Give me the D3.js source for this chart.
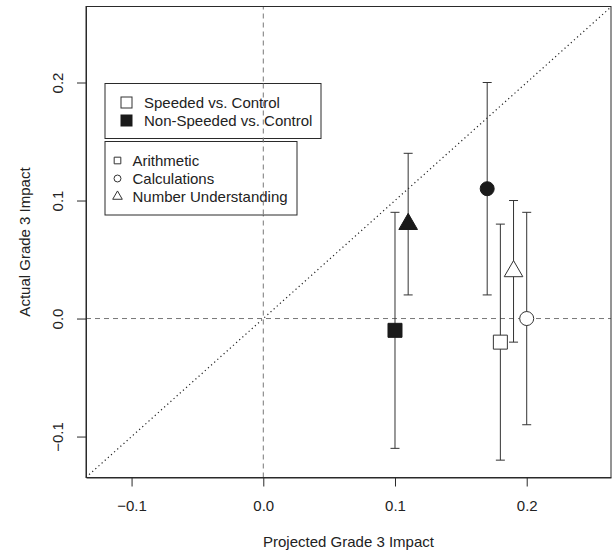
<!DOCTYPE html>
<html>
<head>
<meta charset="utf-8">
<script src="https://cdn.jsdelivr.net/npm/d3@7"></script>
<style>
  body { margin: 0; background: #fff; }
  text { font-family: "Liberation Sans", Arial, sans-serif; fill: #222; }
</style>
</head>
<body>
<script>
// comparisons and outcomes
var groups = ["Speeded vs. Control", "Non-Speeded vs. Control"];
var outcomes = ["Arithmetic", "Calculations", "Number Understanding"];

// projected (x) and actual (y) impacts with CI bounds, one per outcome
var speededProj = [0.18, 0.20, 0.19];
var speededAct = [-0.02, 0.00, 0.04];
var speededLo = [-0.12, -0.09, -0.02];
var speededHi = [0.08, 0.09, 0.10];

var nonSpeededProj = [0.10, 0.17, 0.11];
var nonSpeededAct = [-0.01, 0.11, 0.08];
var nonSpeededLo = [-0.11, 0.02, 0.02];
var nonSpeededHi = [0.09, 0.20, 0.14];

var xTicks = [-0.1, 0.0, 0.1, 0.2];
var yTicks = [-0.1, 0.0, 0.1, 0.2];

var width = 613, height = 553;
var margin = {top: 6.5, right: 2, bottom: 75.5, left: 86};

var x = d3.scaleLinear()
  .domain([-0.1346, 0.264])
  .range([margin.left, width - margin.right]);
var y = d3.scaleLinear()
  .domain([-0.1347, 0.2644])
  .range([height - margin.bottom, margin.top]);

var svg = d3.select("body").append("svg")
  .attr("width", width)
  .attr("height", height);

var ink = "#2a2a2a";

// reference lines
svg.append("line")
  .attr("x1", x(0)).attr("x2", x(0))
  .attr("y1", y.range()[0]).attr("y2", y.range()[1])
  .attr("stroke", "#777").attr("stroke-dasharray", "5,4");
svg.append("line")
  .attr("x1", x.range()[0]).attr("x2", x.range()[1])
  .attr("y1", y(0)).attr("y2", y(0))
  .attr("stroke", "#777").attr("stroke-dasharray", "5,4");
// y = x
var lo = Math.max(x.domain()[0], y.domain()[0]);
var hi = Math.min(x.domain()[1], y.domain()[1]);
svg.append("line")
  .attr("x1", x(lo)).attr("y1", y(lo))
  .attr("x2", x(hi)).attr("y2", y(hi))
  .attr("stroke", "#222").attr("stroke-width", 1.2).attr("stroke-dasharray", "1.2,3");

// box
svg.append("rect")
  .attr("x", x.range()[0]).attr("y", y.range()[1])
  .attr("width", x.range()[1] - x.range()[0])
  .attr("height", y.range()[0] - y.range()[1])
  .attr("fill", "none").attr("stroke", ink);

// axes
var xAxis = svg.append("g")
  .attr("transform", "translate(0," + y.range()[0] + ")")
  .call(d3.axisBottom(x).tickValues(xTicks).tickFormat(d3.format(".1f")).tickSize(9).tickSizeOuter(0).tickPadding(13));
var yAxis = svg.append("g")
  .attr("transform", "translate(" + x.range()[0] + ",0)")
  .call(d3.axisLeft(y).tickValues(yTicks).tickFormat(d3.format(".1f")).tickSize(9).tickSizeOuter(0).tickPadding(0));
[xAxis, yAxis].forEach(function(a) {
  a.select(".domain").attr("stroke", ink);
  a.selectAll(".tick line").attr("stroke", ink);
  a.selectAll(".tick text")
    .style("font-family", '"Liberation Sans", Arial, sans-serif')
    .style("font-size", "15px").attr("fill", "#222");
});
xAxis.selectAll(".tick text").attr("y", null).attr("dy", null)
  .attr("y", 511 - y.range()[0]);
yAxis.selectAll(".tick text")
  .attr("x", null).attr("dy", null)
  .attr("text-anchor", "middle")
  .attr("transform", "translate(" + (63 - x.range()[0]) + ",0) rotate(-90)");

// axis titles
svg.append("text")
  .attr("x", (x.range()[0] + x.range()[1]) / 2).attr("y", 547)
  .attr("text-anchor", "middle").style("font-size", "15px")
  .text("Projected Grade 3 Impact");
svg.append("text")
  .attr("transform", "translate(30," + ((y.range()[0] + y.range()[1]) / 2) + ") rotate(-90)")
  .attr("text-anchor", "middle").style("font-size", "15px")
  .text("Actual Grade 3 Impact");

// build points
var points = [];
outcomes.forEach(function(o, i) {
  points.push({shape: i, filled: false, px: speededProj[i], ay: speededAct[i], lo: speededLo[i], hi: speededHi[i]});
  points.push({shape: i, filled: true, px: nonSpeededProj[i], ay: nonSpeededAct[i], lo: nonSpeededLo[i], hi: nonSpeededHi[i]});
});

// error bars
var bars = svg.append("g").attr("stroke", "#333");
points.forEach(function(d) {
  var cx = x(d.px);
  bars.append("line").attr("x1", cx).attr("x2", cx).attr("y1", y(d.lo)).attr("y2", y(d.hi));
  bars.append("line").attr("x1", cx - 4.5).attr("x2", cx + 4.5).attr("y1", y(d.lo)).attr("y2", y(d.lo));
  bars.append("line").attr("x1", cx - 4.5).attr("x2", cx + 4.5).attr("y1", y(d.hi)).attr("y2", y(d.hi));
});

var symTypes = [d3.symbolSquare, d3.symbolCircle, d3.symbolTriangle];
var bigSizes = [196, 154, 150];

function drawSym(g, shape, filled, cx, cy, size) {
  g.append("path")
    .attr("d", d3.symbol().type(symTypes[shape]).size(size)())
    .attr("transform", "translate(" + cx + "," + cy + ")")
    .attr("fill", filled ? "#1a1a1a" : "#fff")
    .attr("stroke", filled ? "#1a1a1a" : "#333")
    .attr("stroke-width", 1);
}

var marks = svg.append("g");
points.forEach(function(d) {
  drawSym(marks, d.shape, d.filled, x(d.px), y(d.ay), bigSizes[d.shape]);
});

// legend 1: groups
var leg1 = svg.append("g");
leg1.append("rect").attr("x", 105).attr("y", 83.5).attr("width", 216).attr("height", 55)
  .attr("fill", "#fff").attr("stroke", ink);
groups.forEach(function(gname, i) {
  var cy = 102.5 + i * 18;
  leg1.append("rect").attr("x", 121).attr("y", cy - 5.5).attr("width", 11).attr("height", 11)
    .attr("fill", i === 1 ? "#1a1a1a" : "#fff").attr("stroke", i === 1 ? "#1a1a1a" : "#333");
  leg1.append("text").attr("x", 144).attr("y", cy).attr("dy", "0.36em")
    .style("font-size", "15px").text(gname);
});

// legend 2: outcomes
var leg2 = svg.append("g");
leg2.append("rect").attr("x", 105).attr("y", 141.5).attr("width", 192).attr("height", 73.5)
  .attr("fill", "#fff").attr("stroke", ink);
outcomes.forEach(function(o, i) {
  var cy = 160.5 + i * 18;
  drawSym(leg2, i, false, 117.5, cy, [44, 38, 40][i]);
  leg2.append("text").attr("x", 132.5).attr("y", cy).attr("dy", "0.36em")
    .style("font-size", "15px").text(o);
});

// the x=0 dashed line runs over the legends in the reference
svg.append("line")
  .attr("x1", x(0)).attr("x2", x(0))
  .attr("y1", 83.5).attr("y2", 215)
  .attr("stroke", "#777").attr("stroke-dasharray", "5,4");
</script>
</body>
</html>
